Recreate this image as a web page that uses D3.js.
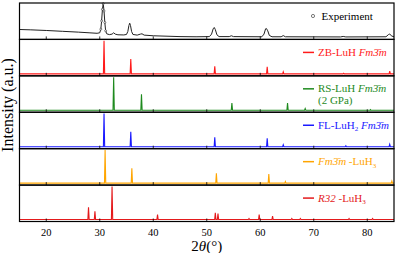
<!DOCTYPE html>
<html>
<head>
<meta charset="utf-8">
<script src="https://cdn.jsdelivr.net/npm/d3@7"></script>
<style>
  body { margin: 0; background: #fff; }
</style>
</head>
<body>
<div class="canvas"></div>
<script>
// experiment pattern (2theta, intensity)
const expTheta = [15, 17, 20, 23, 26, 28, 29.5, 30.0, 30.2, 30.35, 30.5, 30.65, 30.8, 30.95, 31.1, 31.3,
  31.8, 32.3, 32.6, 32.9, 33.4, 34.5, 35.0, 35.25, 35.45, 35.6, 35.75, 35.95, 36.2, 37.0, 37.6, 37.9, 38.3,
  40, 45, 48, 50.5, 50.9, 51.2, 51.4, 51.6, 51.9, 52.3, 54.2, 54.6, 55.0, 60.3, 60.7, 61.0, 61.15, 61.4,
  61.7, 62.2, 63.9, 64.3, 64.7, 75.0, 75.5, 76, 83.5, 84.0, 84.2, 84.6, 85];
const expInt = [0.24, 0.23, 0.21, 0.185, 0.16, 0.14, 0.125, 0.14, 0.25, 0.5, 0.85, 1.02, 0.8, 0.45, 0.2, 0.11,
  0.085, 0.1, 0.14, 0.1, 0.08, 0.075, 0.09, 0.18, 0.36, 0.43, 0.36, 0.18, 0.09, 0.07, 0.1, 0.11, 0.07,
  0.05, 0.025, 0.02, 0.025, 0.1, 0.26, 0.3, 0.24, 0.08, 0.025, 0.025, 0.05, 0.025, 0.02, 0.1, 0.26, 0.27, 0.2,
  0.06, 0.02, 0.02, 0.055, 0.02, 0.015, 0.03, 0.015, 0.02, 0.09, 0.1, 0.04, 0.02];

// calculated patterns: peak positions and relative intensities
const zbPos = [30.8, 35.8, 51.5, 61.3, 64.3, 75.6, 84.2];
const zbInt = [1.0, 0.45, 0.23, 0.21, 0.06, 0.02, 0.08];
const rsPos = [32.6, 37.8, 54.7, 65.1, 68.4, 80.6];
const rsInt = [1.0, 0.48, 0.22, 0.22, 0.05, 0.02];
const flPos = [30.8, 35.8, 51.5, 61.3, 64.3, 76.0, 84.2];
const flInt = [1.0, 0.45, 0.28, 0.25, 0.06, 0.03, 0.07];
const fmPos = [31.0, 36.0, 51.8, 61.6, 64.7, 84.6];
const fmInt = [1.0, 0.45, 0.3, 0.27, 0.05, 0.06];
const r32Pos = [27.9, 29.1, 32.3, 40.8, 51.6, 52.1, 57.9, 59.8, 62.3, 65.9, 67.5, 76.6, 81.0];
const r32Int = [0.37, 0.25, 1.0, 0.15, 0.2, 0.18, 0.03, 0.15, 0.1, 0.03, 0.03, 0.03, 0.03];

const xTicks = [20, 30, 40, 50, 60, 70, 80];

const dims = { width: 399, height: 253 };
const plot = { left: 19.5, right: 394, top: 3, bottom: 221.5 };

const svg = d3.select('.canvas')
    .append('svg')
    .attr('width', dims.width)
    .attr('height', dims.height)
    .attr('font-family', '"Liberation Serif", "DejaVu Serif", serif');

const x = d3.scaleLinear().domain([15, 85]).range([plot.left, plot.right]);

const sticks = [
  { pos: zbPos, int: zbInt, colour: '#ff1a1a' },
  { pos: rsPos, int: rsInt, colour: '#1e8a1e' },
  { pos: flPos, int: flInt, colour: '#1a1aff' },
  { pos: fmPos, int: fmInt, colour: '#ffa500' },
  { pos: r32Pos, int: r32Int, colour: '#e41a1c' }
];

const nPanels = 6;
const panelH = (plot.bottom - plot.top) / nPanels;

const stickPoints = (pos, int) => {
  let pts = [[15, 0]];
  pos.forEach((p, i) => {
    pts.push([p - 0.12, 0], [p, int[i]], [p + 0.12, 0]);
  });
  pts.push([85, 0]);
  return pts.sort((a, b) => a[0] - b[0]);
};

const panelY = i => {
  const top = plot.top + i * panelH;
  return d3.scaleLinear().domain([-0.06, 1.04]).range([top + panelH, top]);
};

// panel 0: experiment
const y0 = panelY(0);
const expData = expTheta.map((t, i) => [t, expInt[i]]);
const line0 = d3.line().x(d => x(d[0])).y(d => y0(d[1]));
svg.append('path')
    .attr('d', line0(expData))
    .attr('fill', 'none')
    .attr('stroke', '#222')
    .attr('stroke-width', 1);
svg.selectAll('circle.exp')
    .data(expData.filter(d => d[0] >= 30.2 && d[0] <= 31.1))
    .enter()
    .append('circle')
    .attr('class', 'exp')
    .attr('cx', d => x(d[0]))
    .attr('cy', d => y0(d[1]))
    .attr('r', 1)
    .attr('fill', '#fff')
    .attr('stroke', '#333')
    .attr('stroke-width', 0.6);

// stick patterns
sticks.forEach((s, k) => {
  const y = panelY(k + 1);
  const line = d3.line().x(d => x(d[0])).y(d => y(d[1]));
  svg.append('path')
      .attr('d', line(stickPoints(s.pos, s.int)))
      .attr('fill', 'none')
      .attr('stroke', s.colour)
      .attr('stroke-width', 1.1);
});

// panel frames and inward ticks
for (let i = 0; i < nPanels; i++) {
  const top = plot.top + i * panelH;
  svg.append('rect')
      .attr('x', plot.left)
      .attr('y', top)
      .attr('width', plot.right - plot.left)
      .attr('height', panelH)
      .attr('fill', 'none')
      .attr('stroke', '#000')
      .attr('stroke-width', 1.2);
  svg.append('g')
      .selectAll('line')
      .data(xTicks)
      .enter()
      .append('line')
      .attr('x1', d => x(d)).attr('x2', d => x(d))
      .attr('y1', top + panelH).attr('y2', top + panelH - 3)
      .attr('stroke', '#000')
      .attr('stroke-width', 0.8);
}

// tick labels
svg.append('g')
    .selectAll('text')
    .data(xTicks)
    .enter()
    .append('text')
    .attr('x', d => x(d))
    .attr('y', 235.5)
    .attr('text-anchor', 'middle')
    .attr('font-size', 10.5)
    .text(d => d);

// axis titles
const xt = svg.append('text')
    .attr('x', (plot.left + plot.right) / 2)
    .attr('y', 250.5)
    .attr('text-anchor', 'middle')
    .attr('font-size', 15);
xt.append('tspan').text('2');
xt.append('tspan').attr('font-style', 'italic').text('θ');
xt.append('tspan').text('(°)');

svg.append('text')
    .attr('transform', 'translate(13, 105) rotate(-90)')
    .attr('text-anchor', 'middle')
    .attr('font-size', 16)
    .text('Intensity (a.u.)');

// legends
const legX = 303, legLen = 11, textX = 318;
const legRow = i => plot.top + i * panelH + 13;

// experiment
svg.append('circle')
    .attr('cx', 313).attr('cy', legRow(0))
    .attr('r', 1.6)
    .attr('fill', '#fff').attr('stroke', '#444').attr('stroke-width', 0.7);
svg.append('text')
    .attr('x', 321.5).attr('y', legRow(0) + 3.5)
    .attr('font-size', 11)
    .text('Experiment');

const legend = (i, colour, build) => {
  svg.append('line')
      .attr('x1', legX).attr('x2', legX + legLen)
      .attr('y1', legRow(i)).attr('y2', legRow(i))
      .attr('stroke', colour).attr('stroke-width', 1.5);
  const t = svg.append('text')
      .attr('x', textX).attr('y', legRow(i) + 3.5)
      .attr('font-size', 11)
      .attr('fill', colour);
  build(t);
  return t;
};

const sg = '3\u0304';

legend(1, sticks[0].colour, t => {
  t.append('tspan').text('ZB-LuH ');
  t.append('tspan').attr('font-style', 'italic').text('Fm' + sg + 'm');
});
legend(2, sticks[1].colour, t => {
  t.append('tspan').text('RS-LuH ');
  t.append('tspan').attr('font-style', 'italic').text('Fm' + sg + 'm');
});
svg.append('text')
    .attr('x', textX).attr('y', legRow(2) + 15)
    .attr('font-size', 11)
    .attr('fill', sticks[1].colour)
    .text('(2 GPa)');
legend(3, sticks[2].colour, t => {
  t.append('tspan').text('FL-LuH');
  t.append('tspan').attr('font-size', 7).attr('dy', 2.5).text('2');
  t.append('tspan').attr('dy', -2.5).text(' ');
  t.append('tspan').attr('font-style', 'italic').text('Fm' + sg + 'm');
});
legend(4, sticks[3].colour, t => {
  t.append('tspan').attr('font-style', 'italic').text('Fm' + sg + 'm');
  t.append('tspan').text(' -LuH');
  t.append('tspan').attr('font-size', 7).attr('dy', 2.5).text('3');
});
legend(5, sticks[4].colour, t => {
  t.append('tspan').attr('font-style', 'italic').text('R32');
  t.append('tspan').text(' -LuH');
  t.append('tspan').attr('font-size', 7).attr('dy', 2.5).text('3');
});
</script>
</body>
</html>
